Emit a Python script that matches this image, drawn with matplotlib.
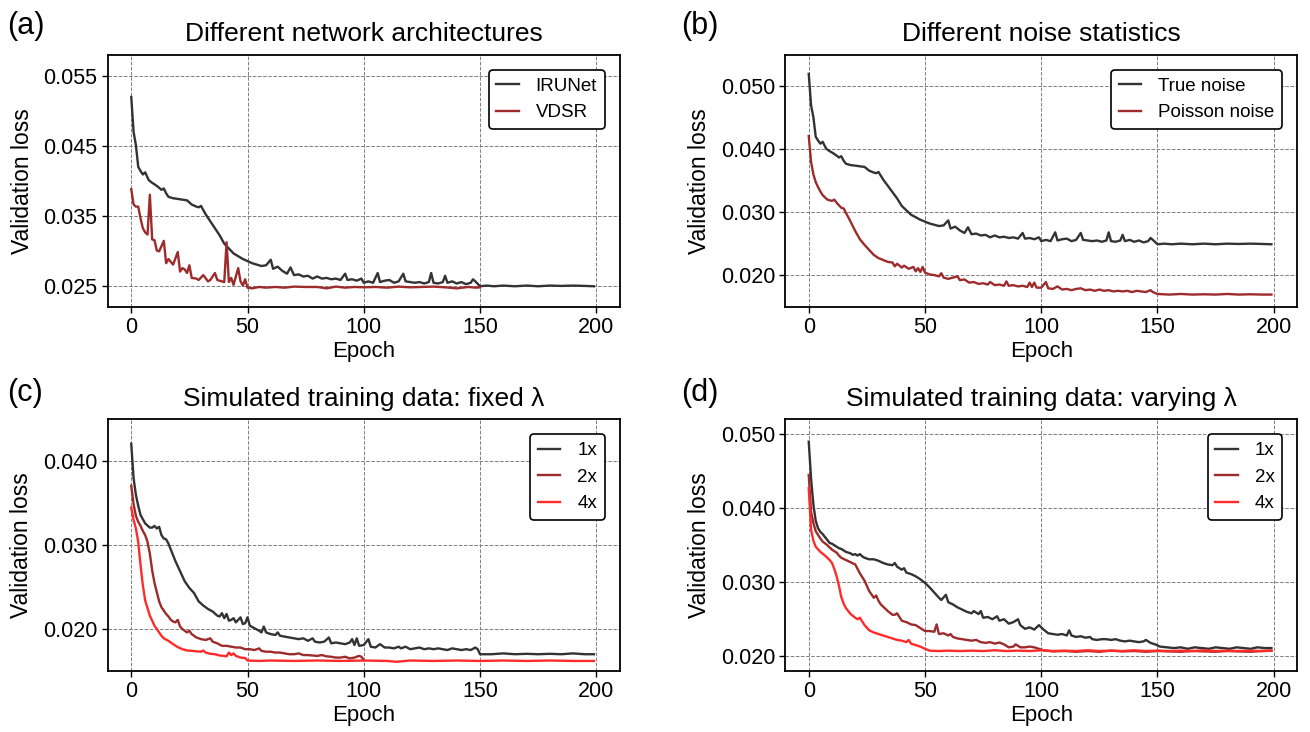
import numpy as np
import matplotlib
matplotlib.use("Agg")
import matplotlib.pyplot as plt

plt.rcParams['font.family'] = ['Liberation Sans', 'DejaVu Sans']

# Curvas de perda de validação: [época, perda x 1e-3]
# (a) e (b) usam a mesma curva preta (IRUNet / True noise)
irunet = np.array([
    [0, 52.0], [1, 47.0], [2, 45.1], [3, 42.0], [4, 41.4], [5, 40.9], [6, 41.2], [7.5, 40.1],
    [9, 39.7], [10, 39.5], [12, 39.0], [13, 38.7], [14, 38.9], [15, 38.2], [16, 37.7], [18, 37.5],
    [20, 37.4], [22, 37.3], [24, 37.2], [26, 36.6], [28, 36.3], [29, 36.2], [30, 36.4], [32, 35.2],
    [34, 34.2], [36, 33.2], [38, 32.2], [40, 31.0], [42, 30.3], [44, 29.6], [46, 29.2], [48, 28.8],
    [50, 28.5], [52, 28.2], [54, 28.0], [56, 27.8], [58, 27.9], [60, 28.7], [61, 27.4], [63, 27.7],
    [65, 27.1], [67, 26.7], [68.5, 27.6], [70, 26.5], [72, 26.6], [74, 26.3], [76, 26.4], [78, 26.0],
    [80, 26.3], [82, 26.0], [84, 26.1], [86, 25.9], [88, 26.0], [90, 25.8], [92, 26.7], [93, 25.8],
    [95, 25.9], [97, 25.7], [99, 26.0], [100, 25.4], [102, 25.6], [104, 25.4], [106, 26.8], [107, 25.5],
    [109, 25.7], [111, 25.8], [113, 25.4], [115, 25.6], [117, 26.7], [118, 25.6], [120, 25.5], [122, 25.4],
    [124, 25.5], [126, 25.3], [128, 25.5], [129, 26.8], [130, 25.4], [132, 25.3], [134, 25.5], [135, 26.4],
    [136, 25.4], [138, 25.6], [140, 25.3], [142, 25.5], [144, 25.2], [146, 25.4], [147, 25.9], [148, 25.6],
    [150, 24.9], [153, 25.0], [156, 24.9], [160, 25.0], [165, 24.9], [170, 25.0], [175, 24.9], [180, 25.0],
    [185, 24.95], [190, 25.0], [195, 24.95], [199, 24.9]])

vdsr = np.array([
    [0, 38.8], [1, 36.6], [2, 36.3], [3, 36.3], [4, 34.6], [5, 33.2], [6, 32.6], [7, 32.3], [8, 38.0],
    [9, 31.6], [10, 31.5], [11, 30.0], [12, 29.9], [14, 31.4], [15, 28.2], [16, 28.8], [18, 28.0],
    [20, 29.8], [21, 27.0], [22, 27.5], [23, 27.3], [24, 26.8], [25, 27.9], [26, 26.1], [28, 26.0],
    [29, 25.8], [31, 26.5], [33, 25.6], [34, 25.8], [36, 26.8], [37, 25.8], [39, 25.6], [40, 25.5],
    [41, 31.2], [42, 25.5], [43, 26.1], [44, 25.1], [46, 27.5], [47, 25.6], [48, 25.0], [49, 25.9],
    [50, 24.7], [52, 24.6], [55, 24.8], [58, 24.7], [62, 24.8], [66, 24.7], [70, 24.85], [75, 24.8],
    [80, 24.8], [84, 24.6], [88, 24.85], [92, 24.7], [96, 24.8], [100, 24.75], [105, 24.8], [110, 24.7],
    [115, 24.85], [120, 24.75], [125, 24.8], [130, 24.85], [135, 24.75], [140, 24.6], [145, 24.8],
    [148, 24.7], [150, 24.75]])

poisson = np.array([
    [0, 42.1], [1, 38.0], [2, 36.0], [3, 34.8], [4, 34.0], [5, 33.3], [6, 32.7], [8, 32.0], [10, 31.8],
    [11, 32.0], [12, 31.5], [14, 30.7], [15, 30.6], [16, 29.9], [18, 28.5], [20, 27.0], [22, 25.7],
    [24, 24.8], [26, 24.0], [28, 23.2], [30, 22.7], [32, 22.4], [34, 22.1], [36, 22.0], [37, 21.4],
    [38, 21.8], [40, 21.2], [41, 21.5], [43, 21.0], [45, 21.3], [46, 20.6], [47, 21.1], [48, 20.5],
    [49, 21.3], [50, 20.4], [52, 20.1], [54, 20.0], [56, 19.8], [57, 20.3], [58, 19.6], [60, 19.4],
    [62, 19.6], [64, 19.8], [65, 19.2], [67, 19.3], [69, 18.8], [71, 18.9], [73, 18.6], [75, 18.7],
    [77, 18.5], [78, 18.9], [80, 18.4], [82, 18.5], [84, 18.3], [85, 19.0], [86, 18.3], [88, 18.4],
    [90, 18.2], [92, 18.3], [94, 18.1], [95, 18.8], [96, 18.1], [97, 18.8], [98, 18.0], [100, 18.0],
    [102, 18.9], [103, 17.9], [105, 17.8], [107, 18.2], [109, 17.7], [111, 17.8], [113, 17.6], [115, 17.8],
    [117, 17.9], [119, 17.6], [121, 17.7], [123, 17.5], [125, 17.7], [127, 17.5], [129, 17.6], [131, 17.4],
    [133, 17.5], [135, 17.4], [137, 17.5], [139, 17.3], [141, 17.5], [143, 17.4], [145, 17.3], [147, 17.6],
    [148, 17.3], [150, 17.0], [155, 16.9], [160, 17.0], [165, 16.9], [170, 16.95], [175, 16.9],
    [180, 17.0], [185, 16.9], [190, 16.95], [195, 16.9], [199, 16.9]])

# (c) lambda fixo
fixed_1x = np.array([
    [0, 42.1], [1, 38.0], [2, 36.0], [3, 34.7], [4, 33.6], [6, 32.6], [8, 32.1], [9, 32.1], [10, 32.3],
    [11, 32.0], [12, 32.2], [13, 31.2], [14, 30.8], [15, 30.7], [16, 30.2], [17, 29.5], [19, 28.1],
    [21, 26.9], [23, 25.7], [25, 24.9], [27, 24.3], [29, 23.3], [31, 22.8], [33, 22.4], [35, 22.1],
    [37, 21.6], [38, 21.5], [39, 21.9], [40, 21.3], [41, 21.8], [42, 21.0], [43, 21.1], [44, 21.3],
    [45, 20.8], [47, 21.4], [48, 20.6], [49, 20.7], [50, 21.4], [51, 20.4], [53, 20.1], [55, 19.8],
    [56, 19.6], [57, 20.3], [58, 19.6], [60, 19.4], [62, 19.3], [63, 19.6], [64, 19.2], [66, 19.1],
    [68, 19.0], [70, 18.9], [72, 18.8], [74, 18.9], [76, 18.6], [78, 18.9], [79, 18.5], [81, 18.4],
    [83, 18.5], [85, 19.0], [86, 18.3], [88, 18.4], [90, 18.3], [92, 18.2], [94, 18.4], [95, 18.8],
    [96, 18.1], [97, 18.9], [98, 18.0], [100, 18.1], [102, 18.8], [103, 17.9], [105, 17.8], [107, 18.2],
    [109, 17.8], [111, 17.8], [113, 17.7], [115, 17.9], [116, 17.7], [118, 17.9], [120, 17.6], [122, 17.7],
    [124, 17.8], [126, 17.6], [128, 17.7], [130, 17.6], [132, 17.7], [134, 17.6], [136, 17.5], [138, 17.7],
    [140, 17.6], [142, 17.5], [144, 17.6], [146, 17.5], [148, 17.8], [149, 17.6], [150, 17.0], [155, 17.0],
    [160, 17.1], [165, 17.0], [170, 17.05], [175, 17.0], [180, 17.05], [185, 17.0], [190, 17.1],
    [195, 17.0], [199, 17.0]])

fixed_2x = np.array([
    [0, 37.1], [1, 34.9], [2, 33.5], [3, 32.8], [4, 32.3], [5, 31.7], [6, 31.2], [7, 30.4], [8, 29.0],
    [9, 27.0], [10, 25.5], [11, 24.4], [12, 23.3], [13, 22.6], [14, 22.2], [15, 21.8], [16, 21.5],
    [17, 21.1], [18, 20.9], [19, 20.8], [20, 21.1], [21, 20.3], [22, 20.0], [23, 19.8], [24, 19.6],
    [25, 19.8], [26, 19.4], [28, 19.0], [30, 18.8], [32, 18.7], [34, 18.9], [35, 18.5], [37, 18.3],
    [39, 18.0], [41, 18.0], [43, 17.9], [45, 17.8], [47, 17.8], [49, 17.6], [51, 17.6], [53, 17.5],
    [55, 17.7], [56, 17.4], [58, 17.3], [60, 17.3], [62, 17.2], [64, 17.2], [66, 17.1], [68, 17.0],
    [70, 17.0], [72, 17.1], [74, 16.9], [76, 16.9], [78, 16.85], [80, 16.8], [82, 16.9], [84, 16.75],
    [86, 16.7], [88, 16.6], [90, 16.6], [92, 16.7], [94, 16.5], [96, 16.6], [98, 16.8], [99, 16.7],
    [100, 16.3]])

fixed_4x = np.array([
    [0, 34.5], [1, 33.0], [2, 32.0], [3, 30.4], [4, 27.6], [5, 25.2], [6, 23.4], [7, 22.5], [8, 21.6],
    [9, 21.0], [10, 20.4], [11, 20.0], [12, 19.6], [13, 19.2], [14, 18.9], [16, 18.6], [18, 18.2],
    [20, 17.85], [22, 17.6], [24, 17.45], [26, 17.4], [28, 17.35], [30, 17.3], [31, 17.45], [32, 17.2],
    [34, 17.05], [36, 17.0], [38, 16.85], [40, 16.8], [41, 16.75], [42, 17.2], [43, 16.9], [44, 17.1],
    [45, 16.8], [47, 16.6], [49, 16.55], [50, 16.25], [55, 16.2], [60, 16.25], [70, 16.2], [80, 16.25],
    [90, 16.2], [100, 16.25], [110, 16.2], [114, 16.1], [120, 16.25], [130, 16.2], [140, 16.25],
    [150, 16.2], [160, 16.25], [170, 16.2], [180, 16.25], [190, 16.2], [199, 16.2]])

# (d) lambda variável
vary_1x = np.array([
    [0, 49.0], [1, 44.0], [2, 40.5], [3, 38.3], [4, 37.3], [5, 36.8], [6, 36.5], [7, 36.1], [8, 35.7],
    [9, 35.3], [10, 35.2], [11, 35.0], [12, 34.8], [13, 34.6], [14, 34.5], [15, 34.3], [16, 34.1],
    [17, 34.0], [18, 33.9], [19, 33.7], [20, 33.8], [21, 33.6], [22, 33.8], [23, 33.5], [24, 33.3],
    [26, 33.1], [28, 33.1], [30, 32.9], [32, 32.6], [34, 32.4], [36, 32.3], [37, 32.6], [38, 32.1],
    [40, 31.7], [41, 31.9], [42, 31.3], [44, 31.1], [46, 30.8], [48, 30.4], [50, 29.9], [52, 29.3],
    [54, 28.6], [56, 27.9], [57, 27.6], [59, 28.3], [60, 27.3], [62, 27.0], [64, 26.6], [66, 26.3],
    [68, 26.0], [70, 25.8], [71, 26.1], [73, 25.7], [74, 26.1], [75, 25.2], [77, 25.3], [79, 25.0],
    [81, 25.4], [82, 24.8], [84, 25.0], [86, 24.4], [88, 24.6], [90, 25.0], [91, 24.2], [93, 23.7],
    [95, 23.9], [97, 23.6], [99, 24.2], [101, 23.6], [103, 23.1], [105, 23.0], [107, 22.9], [109, 23.0],
    [111, 22.8], [112, 23.5], [113, 22.8], [115, 22.6], [117, 22.7], [119, 22.5], [121, 22.6], [122, 22.3],
    [124, 22.2], [126, 22.3], [128, 22.3], [130, 22.2], [132, 22.3], [134, 22.1], [136, 22.0], [138, 22.1],
    [140, 22.0], [142, 21.9], [144, 22.0], [145, 22.2], [147, 21.8], [149, 21.6], [151, 21.3], [154, 21.2],
    [157, 21.1], [160, 21.2], [163, 21.0], [166, 21.2], [169, 21.1], [172, 21.0], [175, 21.2], [178, 21.1],
    [181, 21.0], [184, 21.2], [187, 21.1], [190, 21.0], [193, 21.2], [196, 21.1], [199, 21.1]])

vary_2x = np.array([
    [0, 44.5], [1, 39.5], [2, 38.0], [3, 36.9], [4, 36.4], [5, 35.9], [6, 35.5], [8, 35.0], [10, 34.4],
    [12, 34.0], [13, 33.6], [14, 33.3], [16, 33.0], [18, 32.7], [20, 32.4], [21, 31.8], [22, 31.2],
    [24, 30.2], [26, 28.8], [28, 27.9], [29, 28.2], [30, 27.5], [31, 27.0], [33, 26.4], [34, 26.1],
    [36, 25.6], [37, 25.6], [38, 25.8], [40, 24.8], [42, 24.6], [44, 24.3], [46, 24.2], [48, 23.8],
    [50, 23.4], [52, 23.4], [54, 23.3], [55, 24.3], [56, 23.0], [58, 23.1], [60, 22.8], [61, 23.0],
    [62, 22.6], [64, 22.4], [66, 22.3], [68, 22.2], [70, 22.1], [72, 22.2], [74, 21.9], [76, 21.8],
    [78, 21.9], [80, 21.7], [82, 21.85], [84, 21.6], [86, 21.2], [88, 21.3], [89, 21.6], [91, 21.2],
    [93, 21.2], [95, 21.3], [97, 21.2], [99, 21.0], [101, 20.8], [105, 20.65], [110, 20.7], [115, 20.6],
    [120, 20.7], [125, 20.6], [130, 20.75], [135, 20.65], [140, 20.7], [145, 20.6], [150, 20.7],
    [155, 20.65], [160, 20.6], [165, 20.7], [170, 20.65], [175, 20.6], [180, 20.7], [185, 20.65],
    [190, 20.6], [195, 20.7], [199, 20.75]])

vary_4x = np.array([
    [0, 42.7], [1, 37.1], [2, 35.6], [3, 34.8], [5, 34.1], [7, 33.6], [9, 33.0], [10, 32.6], [11, 31.8],
    [12, 30.8], [13, 29.5], [14, 28.0], [15, 27.1], [16, 26.5], [18, 25.7], [20, 25.2], [21, 25.0],
    [22, 25.2], [23, 24.7], [24, 24.2], [26, 23.5], [28, 23.2], [30, 23.0], [32, 22.8], [34, 22.6],
    [36, 22.4], [38, 22.2], [40, 22.1], [42, 21.9], [43, 22.2], [44, 21.7], [46, 21.5], [48, 21.3],
    [50, 21.0], [52, 20.75], [56, 20.7], [60, 20.75], [65, 20.7], [70, 20.75], [75, 20.7], [80, 20.8],
    [85, 20.7], [90, 20.75], [95, 20.7], [100, 20.8], [105, 20.7], [110, 20.75], [115, 20.7],
    [120, 20.8], [125, 20.7], [130, 20.75], [135, 20.7], [140, 20.8], [145, 20.7], [150, 20.75],
    [155, 20.7], [160, 20.75], [165, 20.7], [170, 20.8], [175, 20.7], [180, 20.75], [185, 20.7],
    [190, 20.75], [195, 20.7], [199, 20.75]])

titles = ["Different network architectures", "Different noise statistics",
          "Simulated training data: fixed λ", "Simulated training data: varying λ"]
letters = ["(a)", "(b)", "(c)", "(d)"]
yticks = [[0.025, 0.035, 0.045, 0.055], [0.020, 0.030, 0.040, 0.050],
          [0.020, 0.030, 0.040], [0.020, 0.030, 0.040, 0.050]]
ylims = [(0.022, 0.058), (0.015, 0.055), (0.015, 0.045), (0.018, 0.052)]

preto = '#333333'
vermelho_escuro = '#9e2b2b'
vermelho = '#ff2b2b'

curvas = [
    [(irunet, preto, "IRUNet"), (vdsr, vermelho_escuro, "VDSR")],
    [(irunet, preto, "True noise"), (poisson, vermelho_escuro, "Poisson noise")],
    [(fixed_1x, preto, "1x"), (fixed_2x, vermelho_escuro, "2x"), (fixed_4x, vermelho, "4x")],
    [(vary_1x, preto, "1x"), (vary_2x, vermelho_escuro, "2x"), (vary_4x, vermelho, "4x")],
]

fig, axs = plt.subplots(2, 2, figsize=(13.1, 7.32), dpi=100)
plt.subplots_adjust(left=108/1310, right=1297/1310, top=1-55/732, bottom=1-671/732,
                    wspace=0.3245, hspace=0.449)

for i, ax in enumerate(axs.flat):
    for dados, cor, nome in curvas[i]:
        ax.plot(dados[:, 0], dados[:, 1] * 1e-3, color=cor, lw=1.7, label=nome)
    ax.set_title(titles[i], fontsize=19, pad=10)
    ax.set_xlabel("Epoch", fontsize=16, labelpad=2)
    ax.set_ylabel("Validation loss", fontsize=16.5, labelpad=7)
    ax.set_xticks([0, 50, 100, 150, 200])
    ax.set_xlim(-10, 210)
    ax.set_yticks(yticks[i])
    ax.set_yticklabels([f"{v:.3f}" for v in yticks[i]])
    ax.set_ylim(ylims[i])
    ax.tick_params(labelsize=15.5, length=4, width=1)
    ax.grid(True, linestyle='--', linewidth=0.7, color='#808080')
    for s in ax.spines.values():
        s.set_linewidth(1.3)
    leg = ax.legend(loc='upper right', fontsize=13.5, handlelength=1.2, handletextpad=0.9,
                    borderaxespad=0.8, framealpha=1, fancybox=True, edgecolor='black')
    leg.get_frame().set_linewidth(1.2)

# letras dos painéis
fig.text(7/1310, 1-34/732, letters[0], fontsize=22, va='baseline')
fig.text(681/1310, 1-34/732, letters[1], fontsize=22, va='baseline')
fig.text(7/1310, 1-401/732, letters[2], fontsize=22, va='baseline')
fig.text(681/1310, 1-401/732, letters[3], fontsize=22, va='baseline')

plt.savefig("out.png", dpi=100)
